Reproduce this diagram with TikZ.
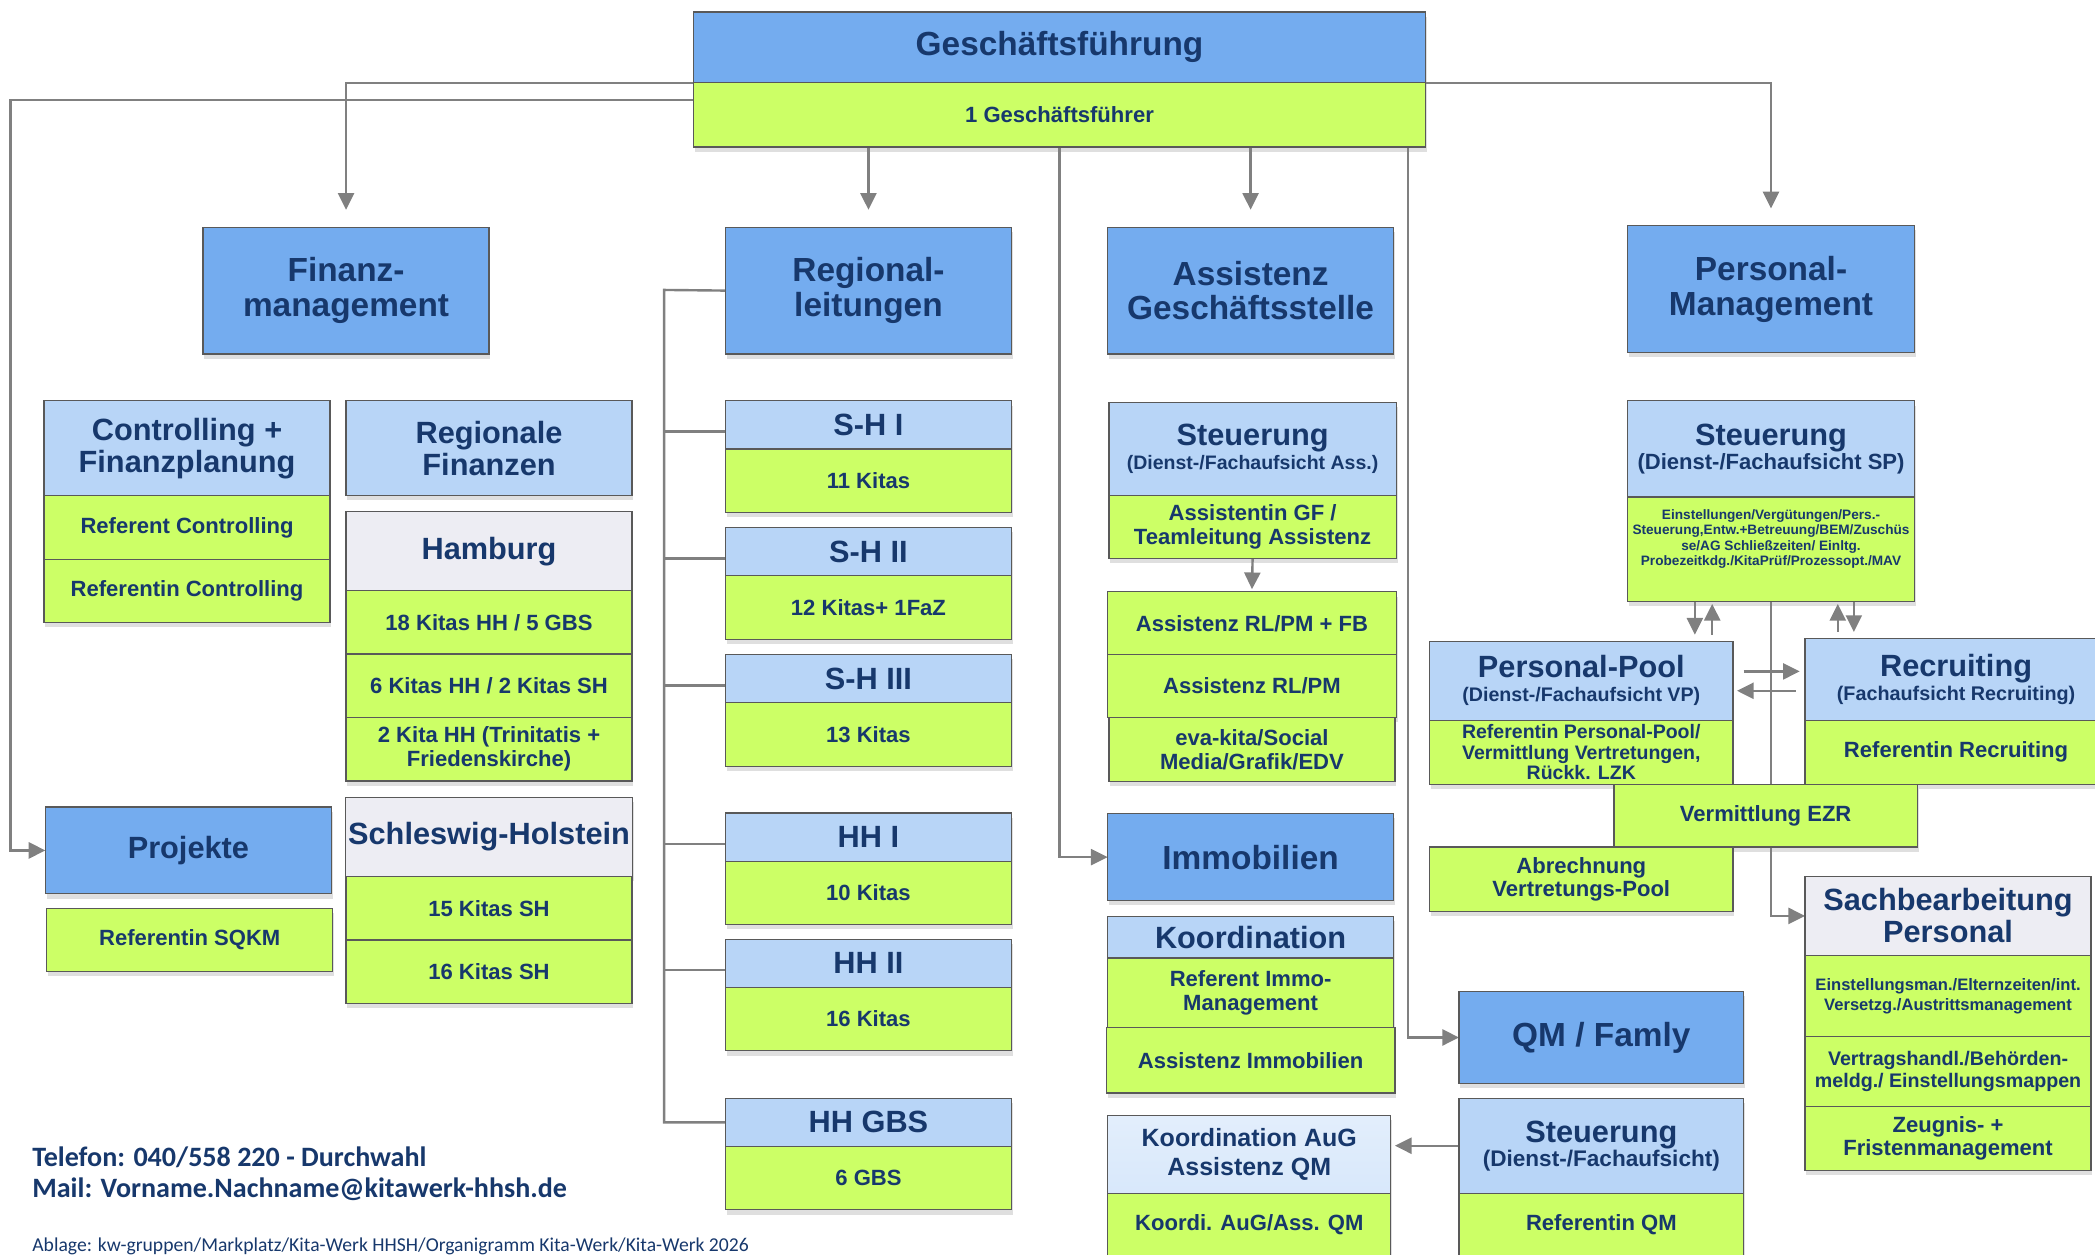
\documentclass[tikz,border=0pt]{standalone}
\usepackage{fontspec}
\setmainfont{Liberation Sans}
\newfontfamily\telfont{Carlito}
\usetikzlibrary{positioning,arrows.meta,shadows,backgrounds}

\definecolor{navy}{HTML}{17386C}
\definecolor{midblue}{HTML}{74ACEF}
\definecolor{lightblue}{HTML}{B8D5F7}
\definecolor{kitagreen}{HTML}{CCFF66}
\definecolor{greyhead}{HTML}{EDEDF3}
\definecolor{linegrey}{HTML}{808080}

\tikzset{
  box/.style={draw=black!65, line width=0.9pt, text=navy, align=center, inner sep=2pt, outer sep=0pt,
    minimum width=214pt, drop shadow={shadow xshift=1pt, shadow yshift=-3.5pt, opacity=.25}},
  head/.style={box, fill=midblue, font=\fontsize{25}{26}\selectfont\bfseries},
  sub/.style={box, fill=lightblue, font=\fontsize{23}{24}\selectfont\bfseries},
  region/.style={box, fill=greyhead, font=\fontsize{23}{24}\selectfont\bfseries},
  item/.style={box, fill=kitagreen, minimum height=47.5pt, font=\fontsize{16.5}{18}\selectfont\bfseries},
  conn/.style={draw=linegrey, line width=1.8pt},
  arr/.style={conn, -{Triangle[length=12.5pt,width=12pt]}},
}

\begin{document}
\begin{tikzpicture}[x=1pt,y=-1pt]
\useasboundingbox (0,0) rectangle (1568,939);

\node[head, minimum width=548pt, minimum height=53pt] (gf) at (793,35.5) {Geschäftsführung};
\node[item, below=0pt of gf, minimum width=548pt, minimum height=48pt] (gfa) {1 Geschäftsführer};

\node[head, minimum height=95pt] (fin) at (259,217.5) {Finanz-\\management};
\node[head, minimum height=95pt] (reg) at (650,217.5) {Regional-\\leitungen};
\node[head, minimum height=95pt] (ass) at (936,217.5) {Assistenz\\Geschäftsstelle};
\node[head, minimum height=95pt, minimum width=215pt] (pers) at (1325.5,216.5) {Personal-\\Management};

\node[sub, minimum height=71pt] (ctrl) at (140,335.5) {Controlling +\\Finanzplanung};
\node[item, below=0pt of ctrl] (refc) {Referent Controlling};
\node[item, below=0pt of refc] (refin) {Referentin Controlling};

\node[sub, minimum height=71pt] (rfin) at (366,335.5) {Regionale\\Finanzen};
\node[region, minimum height=59pt] (hh) at (366,412.5) {Hamburg};
\node[item, below=0pt of hh] (hhk1) {18 Kitas HH / 5 GBS};
\node[item, below=0pt of hhk1] (hhk2) {6 Kitas HH / 2 Kitas SH};
\node[item, below=0pt of hhk2] (hhk3) {2 Kita HH (Trinitatis +\\Friedenskirche)};

\node[head, minimum height=65pt, font=\fontsize{23}{24}\selectfont\bfseries] (proj) at (141,636.5) {Projekte};
\node[item, minimum height=47pt] (sqkm) at (142,703.5) {Referentin SQKM};

\node[region, minimum height=59pt] (sh) at (366,626.5) {Schleswig-Holstein};
\node[item, below=0pt of sh] (shk1) {15 Kitas SH};
\node[item, below=0pt of shk1] (shk2) {16 Kitas SH};

\node[sub, minimum height=36pt] (shi) at (650,318) {S-H I};
\node[item, below=0pt of shi] (shik) {11 Kitas};
\node[sub, minimum height=36pt] (shii) at (650,413) {S-H II};
\node[item, below=0pt of shii] (shiik) {12 Kitas+ 1FaZ};
\node[sub, minimum height=36pt] (shiii) at (650,508) {S-H III};
\node[item, below=0pt of shiii] (shiiik) {13 Kitas};
\node[sub, minimum height=36pt] (hhi) at (650,626.5) {HH I};
\node[item, below=0pt of hhi] (hhik) {10 Kitas};
\node[sub, minimum height=36pt] (hhii) at (650,721) {HH II};
\node[item, below=0pt of hhii] (hhiik) {16 Kitas};
\node[sub, minimum height=36pt] (hhg) at (650,840) {HH GBS};
\node[item, below=0pt of hhg] (hhgk) {6 GBS};

\node[sub, minimum height=70pt, minimum width=215pt] (sta) at (937.5,336)
  {Steuerung\\[-6pt]{\fontsize{14.6}{16}\selectfont(Dienst-/Fachaufsicht Ass.)}};
\node[item, below=0pt of sta, minimum width=215pt, minimum height=47pt] (ag) {Assistentin GF /\\Teamleitung Assistenz};
\node[item, minimum width=216pt, minimum height=47pt] (ar1) at (937,466.5) {Assistenz RL/PM + FB};
\node[item, below=0pt of ar1, minimum width=216pt, minimum height=47pt] (ar2) {Assistenz RL/PM};
\node[item, below=0pt of ar2, minimum height=48pt] (eva) {eva-kita/Social\\Media/Grafik/EDV};

\node[head, minimum height=65pt] (immo) at (936,641.5) {Immobilien};
\node[sub, minimum height=31pt] (koord) at (936,701.5) {Koordination};
\node[item, below=0pt of koord, minimum height=52pt] (rim) {Referent Immo-\\Management};
\node[item, below=0pt of rim, minimum height=49pt, minimum width=216pt] (aim) {Assistenz Immobilien};

\node[box, minimum width=212pt, minimum height=58pt, top color=white!60!lightblue, bottom color=lightblue!55,
  font=\fontsize{18.7}{21}\selectfont\bfseries] (aug) at (935,864) {Koordination AuG\\Assistenz QM};
\node[item, below=0pt of aug, minimum width=212pt, minimum height=47pt] (augk) {Koordi. AuG/Ass. QM};

\node[head, minimum width=213pt, minimum height=69pt] (qm) at (1198.5,776.5) {QM / Famly};
\node[sub, minimum width=213pt, minimum height=71pt] (stq) at (1198.5,857.5)
  {Steuerung\\[-6pt]{\fontsize{16.9}{18}\selectfont(Dienst-/Fachaufsicht)}};
\node[item, below=0pt of stq, minimum width=213pt, minimum height=47pt] (refqm) {Referentin QM};

\node[sub, minimum width=215pt, minimum height=72pt] (stp) at (1325.5,336)
  {Steuerung\\[-6pt]{\fontsize{16.5}{18}\selectfont(Dienst-/Fachaufsicht SP)}};
\node[item, below=0pt of stp, minimum width=215pt, minimum height=78pt, inner sep=0pt,
  font=\fontsize{10.2}{11.5}\selectfont\bfseries] (stpk)
  {Einstellungen/Vergütungen/Pers.-\\Steuerung,Entw.+Betreuung/BEM/Zuschüs\\se/AG Schließzeiten/ Einltg.\\Probezeitkdg./KitaPrüf/Prozessopt./MAV\\[6pt]};

\node[sub, minimum width=227pt, minimum height=59pt] (pool) at (1183.5,509.5)
  {Personal-Pool\\[-6pt]{\fontsize{14.7}{16}\selectfont(Dienst-/Fachaufsicht VP)}};
\node[item, below=0pt of pool, minimum width=227pt, minimum height=48pt, inner sep=0pt,
  font=\fontsize{14.6}{15.5}\selectfont\bfseries] (poolk) {Referentin Personal-Pool/\\Vermittlung Vertretungen,\\Rückk. LZK};
\node[sub, minimum width=226pt, minimum height=61pt] (recr) at (1464,508.5)
  {Recruiting\\[-6pt]{\fontsize{14.8}{16}\selectfont(Fachaufsicht Recruiting)}};
\node[item, below=0pt of recr, minimum width=226pt, minimum height=48pt] (recrk) {Referentin Recruiting};
\node[item, minimum width=227pt, minimum height=47pt] (ezr) at (1321.5,610.5) {Vermittlung EZR};
\node[item, minimum width=227pt, minimum height=48pt, font=\fontsize{16.5}{17}\selectfont\bfseries] (abr) at (1183.5,658)
  {Abrechnung\\Vertretungs-Pool};

\node[region, minimum height=59pt] (sach) at (1458,685.5) {Sachbearbeitung\\Personal};
\node[item, below=0pt of sach, minimum height=61pt, font=\fontsize{12.4}{15}\selectfont\bfseries] (sachk1)
  {Einstellungsman./Elternzeiten/int.\\Versetzg./Austrittsmanagement};
\node[item, below=0pt of sachk1, minimum height=52pt, font=\fontsize{14.7}{17}\selectfont\bfseries] (sachk2)
  {Vertragshandl./Behörden-\\meldg./ Einstellungsmappen};
\node[item, below=0pt of sachk2, minimum height=48pt, font=\fontsize{16.5}{17.5}\selectfont\bfseries] (sachk3)
  {Zeugnis- +\\Fristenmanagement};

\node[anchor=west, text=navy, inner sep=0pt, font=\fontsize{21}{22}\selectfont\telfont\bfseries] (tel) at (24,866)
  {Telefon: 040/558 220 - Durchwahl};
\node[anchor=west, text=navy, inner sep=0pt, font=\fontsize{21}{22}\selectfont\telfont\bfseries] (mail) at (24,890)
  {Mail: Vorname.Nachname@kitawerk-hhsh.de};
\node[anchor=west, text=navy, inner sep=0pt, font=\fontsize{14.7}{16}\selectfont\telfont] (abl) at (24,933)
  {Ablage: kw-gruppen/Markplatz/Kita-Werk HHSH/Organigramm Kita-Werk/Kita-Werk 2026};

\coordinate (lft) at (8,75);
\coordinate (rb) at (497,217);

\begin{scope}[on background layer]
\draw[arr, shorten >=13pt] (gf.south west) -| (fin.north);
\draw[arr] ([yshift=11pt]gfa.west) -- (lft) |- (proj.west);
\draw[arr, shorten >=13pt] (gfa.south -| reg.north) -- (reg.north);
\draw[arr, shorten >=13pt] (gfa.south -| ass.north) -- (ass.north);
\draw[arr, shorten >=13pt] (gf.south east) -| (pers.north);
\draw[arr] (gfa.south) |- (immo.west);
\draw[arr] ([xshift=-13pt]gfa.south east) |- (qm.west);

\draw[conn] (reg.west) -- (rb) |- (hhg.west);
\foreach \r in {shi,shii,shiii,hhi,hhii}
  \draw[conn, transform canvas={yshift=-5pt}] (rb |- \r.west) -- (\r.west);

\draw[arr, shorten >=2pt] (ag.south) -- (ar1.north);
\draw[arr, shorten >=3pt] (stq.west) -- (stq.west -| aug.east);

\draw[arr] (stpk.south) |- (sach.west);
\draw[arr, shorten >=5pt] ([xshift=-57pt]stpk.south) -- ([xshift=-57pt]stpk.south |- pool.north);
\draw[arr, shorten <=5pt, shorten >=2pt] ([xshift=-44pt]stpk.south |- pool.north) -- ([xshift=-44pt]stpk.south);
\draw[arr, shorten <=5pt, shorten >=2pt] ([xshift=50pt]stpk.south |- recr.north) -- ([xshift=50pt]stpk.south);
\draw[arr, shorten >=5pt] ([xshift=62pt]stpk.south) -- ([xshift=62pt]stpk.south |- recr.north);
\draw[arr, shorten <=8pt, shorten >=4pt] ([yshift=7pt]pool.east) -- ([yshift=7pt]pool.east -| recr.west);
\draw[arr, shorten <=7pt, shorten >=3pt] ([yshift=-7.5pt]pool.east -| recr.west) -- ([yshift=-7.5pt]pool.east);
\end{scope}
\end{tikzpicture}
\end{document}
